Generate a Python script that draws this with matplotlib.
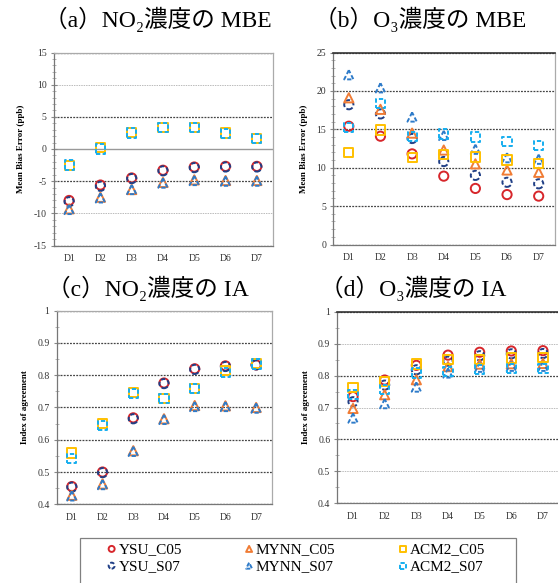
import matplotlib
matplotlib.use("Agg")
import matplotlib.pyplot as plt
from matplotlib.patches import Rectangle
from matplotlib.ticker import MultipleLocator, FuncFormatter

days = ["D1", "D2", "D3", "D4", "D5", "D6", "D7"]
series = ["YSU_C05", "YSU_S07", "MYNN_C05", "MYNN_S07", "ACM2_C05", "ACM2_S07"]

# (a) NO2 MBE
no2_mbe = {
    "YSU_C05": [-8.0, -5.6, -4.5, -3.3, -2.8, -2.7, -2.7],
    "YSU_S07": [-8.2, -5.8, -4.6, -3.4, -2.9, -2.8, -2.8],
    "MYNN_C05": [-9.3, -7.5, -6.3, -5.2, -4.8, -4.9, -4.9],
    "MYNN_S07": [-9.4, -7.6, -6.3, -5.3, -4.9, -5.0, -5.0],
    "ACM2_C05": [-2.6, 0.2, 2.6, 3.4, 3.4, 2.5, 1.6],
    "ACM2_S07": [-2.5, 0.0, 2.5, 3.3, 3.3, 2.4, 1.6],
}
# (b) O3 MBE
o3_mbe = {
    "YSU_C05": [15.4, 14.1, 11.8, 8.9, 7.3, 6.5, 6.3],
    "YSU_S07": [18.2, 17.0, 13.8, 10.8, 9.0, 8.1, 7.9],
    "MYNN_C05": [19.1, 17.6, 14.5, 12.3, 10.5, 9.7, 9.4],
    "MYNN_S07": [22.1, 20.4, 16.6, 14.2, 12.4, 11.3, 11.1],
    "ACM2_C05": [12.0, 14.9, 11.3, 11.7, 11.4, 11.0, 10.5],
    "ACM2_S07": [15.2, 18.4, 14.1, 14.4, 14.0, 13.4, 12.9],
}
# (c) NO2 IA
no2_ia = {
    "YSU_C05": [0.455, 0.500, 0.668, 0.776, 0.820, 0.829, 0.832],
    "YSU_S07": [0.453, 0.498, 0.665, 0.774, 0.818, 0.827, 0.832],
    "MYNN_C05": [0.428, 0.463, 0.566, 0.665, 0.706, 0.705, 0.700],
    "MYNN_S07": [0.426, 0.461, 0.564, 0.663, 0.703, 0.703, 0.698],
    "ACM2_C05": [0.559, 0.650, 0.746, 0.729, 0.759, 0.815, 0.837],
    "ACM2_S07": [0.543, 0.643, 0.744, 0.727, 0.758, 0.808, 0.835],
}
# (d) O3 IA
o3_ia = {
    "YSU_C05": [0.734, 0.786, 0.832, 0.864, 0.873, 0.877, 0.878],
    "YSU_S07": [0.718, 0.770, 0.818, 0.845, 0.862, 0.868, 0.869],
    "MYNN_C05": [0.697, 0.740, 0.787, 0.828, 0.836, 0.837, 0.838],
    "MYNN_S07": [0.667, 0.712, 0.764, 0.808, 0.826, 0.829, 0.829],
    "ACM2_C05": [0.763, 0.781, 0.836, 0.851, 0.850, 0.855, 0.857],
    "ACM2_S07": [0.740, 0.757, 0.808, 0.813, 0.818, 0.823, 0.823],
}

colors = {
    "YSU_C05": "#d7262b", "YSU_S07": "#203f86",
    "MYNN_C05": "#f07c35", "MYNN_S07": "#2e7bc9",
    "ACM2_C05": "#ffc000", "ACM2_S07": "#16aeef",
}
markers = {"YSU": "o", "MYNN": "^", "ACM2": "s"}

serif = ["Liberation Serif", "Noto Sans CJK JP", "DejaVu Serif"]
plt.rcParams["font.family"] = serif

fig = plt.figure(figsize=(5.58, 5.83), dpi=100)
W, H = 558, 583


def add_axes(x0, x1, ytop, ybot):
    return fig.add_axes([x0 / W, 1 - ybot / H, (x1 - x0) / W, (ybot - ytop) / H])


def draw(ax, data, ylim, major, minor, ylabel, light=(), solid=(), dark_top=False):
    x = range(len(days))
    for name in series:
        m = markers[name.split("_")[0]]
        ls = "solid" if name.endswith("C05") else (0, (2.2, 1.2))
        ax.scatter(x, data[name], s=44, marker=m, facecolors="none",
                   edgecolors=colors[name], linewidths=1.4, linestyle=ls,
                   label=name, zorder=3, clip_on=False)
    ax.set_xlim(-0.5, len(days) - 0.5)
    ax.set_xticks(list(x))
    ax.set_xticklabels(days)
    ax.set_ylim(*ylim)
    ax.yaxis.set_major_locator(MultipleLocator(major))
    ax.yaxis.set_minor_locator(MultipleLocator(minor))
    ax.yaxis.set_major_formatter(FuncFormatter(lambda v, p: f"{v:g}"))
    ax.tick_params(axis="x", length=0, labelsize=7, pad=6, colors="#333333")
    ax.tick_params(axis="y", which="major", direction="inout", length=4,
                   labelsize=7, color="#888888", labelcolor="#333333", pad=3)
    ax.tick_params(axis="y", which="minor", direction="inout", length=3,
                   color="#aaaaaa")
    ax.set_ylabel(ylabel, fontsize=6.5, fontweight="bold", labelpad=6)
    for s in ["top", "right"]:
        ax.spines[s].set_color("#aaaaaa")
    for s in ["left", "bottom"]:
        ax.spines[s].set_color("#777777")
    for sp in ax.spines.values():
        sp.set_linewidth(0.9)
    if dark_top:
        ax.spines["top"].set_color("#333333")
        ax.spines["top"].set_linewidth(1.2)
    ax.grid(axis="y", which="major", color="#444444", ls=(0, (1.5, 1.0)), lw=0.9)
    ax.set_axisbelow(True)
    for val, gl in zip(ax.get_yticks(), ax.get_ygridlines()):
        if any(abs(val - v) < 1e-9 for v in light):
            gl.set_color("#bbbbbb")
            gl.set_linewidth(0.7)
        if any(abs(val - v) < 1e-9 for v in solid):
            gl.set_color("#999999")
            gl.set_linestyle("-")
            gl.set_linewidth(1.0)


ax_a = add_axes(53.5, 272.5, 52.5, 245.5)
draw(ax_a, no2_mbe, (-15, 15), 5, 1, "Mean Bias Error (ppb)",
     light=(10, -10), solid=(0,))
ax_b = add_axes(333, 554.5, 52.5, 244.5)
draw(ax_b, o3_mbe, (0, 25), 5, 1, "Mean Bias Error (ppb)", dark_top=True)
ax_c = add_axes(56.5, 271.5, 310.7, 504.3)
draw(ax_c, no2_ia, (0.4, 1.0), 0.1, 0.05, "Index of agreement")
ax_d = add_axes(337.2, 558.8, 311.7, 503.3)
draw(ax_d, o3_ia, (0.4, 1.0), 0.1, 0.05, "Index of agreement",
     light=(0.9, 0.7, 0.5), dark_top=True)

titles = [
    (158, 19, "（a）NO₂濃度の MBE"),
    (420, 19, "（b）O₃濃度の MBE"),
    (148, 288, "（c）NO₂濃度の IA"),
    (413, 288, "（d）O₃濃度の IA"),
]
for tx, ty, t in titles:
    fig.text(tx / W, 1 - ty / H, t, ha="center", va="center", fontsize=17,
             family=serif)

# legend box, its bottom edge runs off the figure
fig.patches.append(Rectangle((80 / W, -0.05), 436 / W, 0.05 + (583 - 538) / H,
                             transform=fig.transFigure, fill=False,
                             edgecolor="#808080", lw=0.9))
handles, labels = ax_a.get_legend_handles_labels()
leg = fig.legend(handles, labels, ncol=3, loc="upper left",
                 bbox_to_anchor=(104 / W, 1 - 545 / H, 384 / W, 0.01),
                 mode="expand", fontsize=11, frameon=False,
                 handlelength=0.6, handletextpad=0.15,
                 borderpad=0.2, labelspacing=0.2, markerscale=0.65,
                 borderaxespad=0)

fig.savefig("out.png", dpi=100)
